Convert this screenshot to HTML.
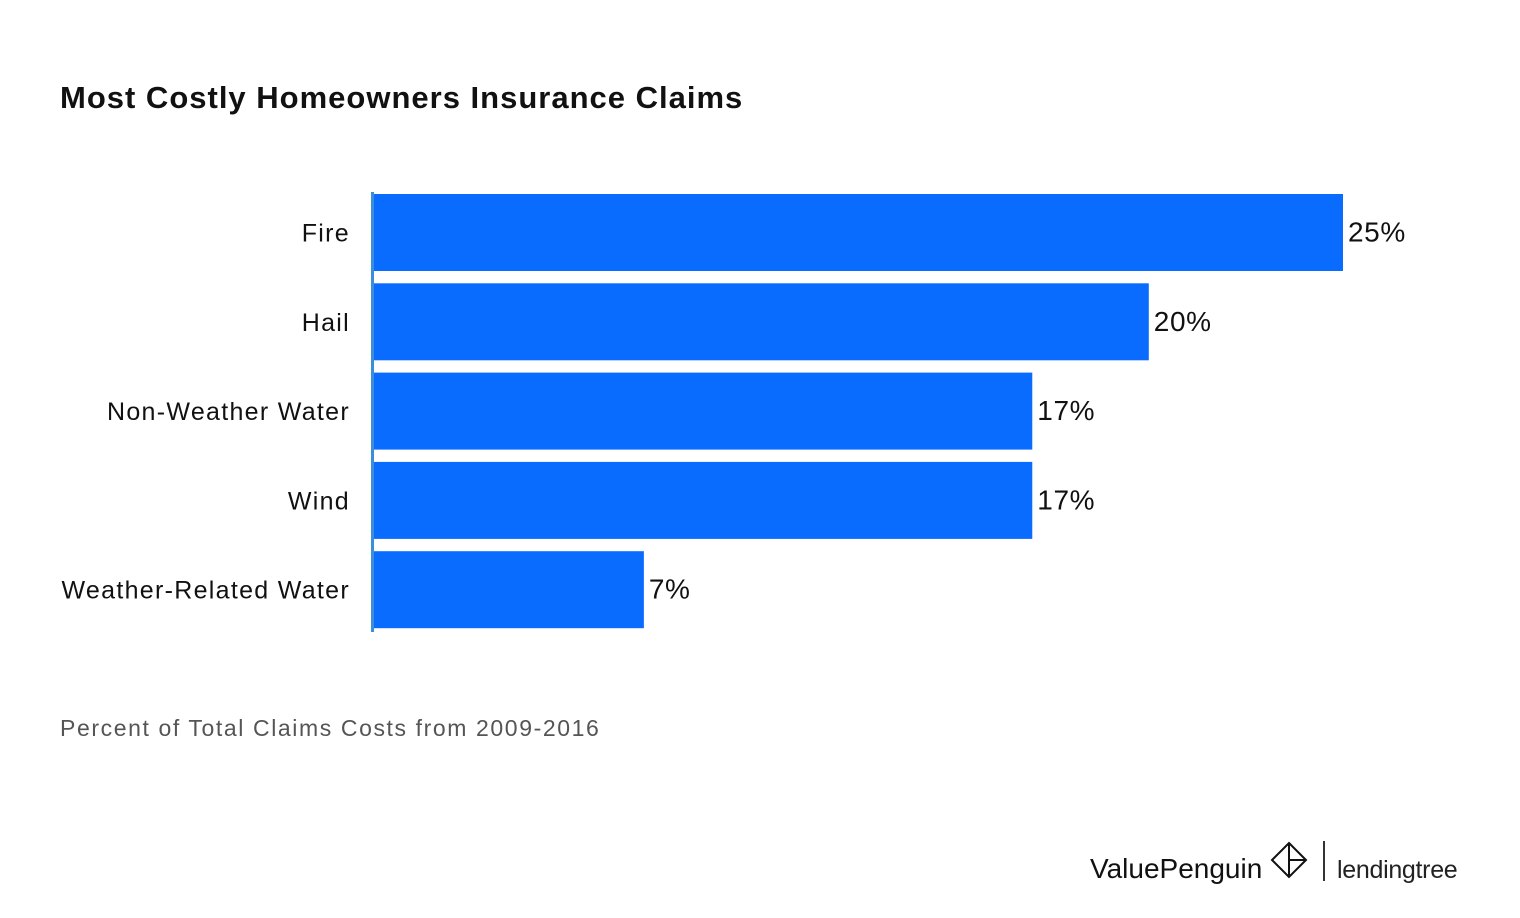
<!DOCTYPE html>
<html><head><meta charset="utf-8"><style>
body{margin:0;background:#fff;font-family:"Liberation Sans",sans-serif}
#wrap{position:relative;width:1520px;height:918px;overflow:hidden}
.t{position:absolute;color:#111}
</style></head><body>
<div id="wrap">
<div class="t" style="left:60px;top:80px;font-size:31px;font-weight:bold;letter-spacing:1px">Most Costly Homeowners Insurance Claims</div>
<svg id="svg" width="1520" height="918" style="position:absolute;left:0;top:0"></svg>
<div class="t" style="left:60px;top:715px;font-size:23px;color:#555;letter-spacing:1.6px">Percent of Total Claims Costs from 2009-2016</div>
<div class="t" style="left:1090px;top:853px;font-size:28px;letter-spacing:0px">ValuePenguin</div>
<svg style="position:absolute;left:1270px;top:840px" width="40" height="40"><path d="M19 3 L36 20 L19 37 L2 20 Z M19 3 L19 37 M19 20 L36 20" fill="none" stroke="#111" stroke-width="2"/></svg>
<div style="position:absolute;left:1323px;top:841px;width:2px;height:40px;background:#333"></div>
<div class="t" style="left:1337px;top:856px;font-size:25px;letter-spacing:-0.3px;color:#222">lendingtree</div>
</div>
<script>
const categories=["Fire","Hail","Non-Weather Water","Wind","Weather-Related Water"];
const values=[25,20,17,17,7];
const labels=["25%","20%","17%","17%","7%"];
const svg=document.getElementById('svg');
const NS="http://www.w3.org/2000/svg";
const x0=372, pxPer=38.84, top0=194, pitch=89.3, bh=77;
const xs=v=>x0+v*pxPer;
const ys=i=>top0+i*pitch;
categories.forEach((c,i)=>{
 const r=document.createElementNS(NS,'rect');
 r.setAttribute('x',x0);r.setAttribute('y',ys(i));
 r.setAttribute('width',xs(values[i])-x0);r.setAttribute('height',bh);
 r.setAttribute('fill','#0a6cff');
 
 
 svg.appendChild(r);
 const t=document.createElementNS(NS,'text');
 t.setAttribute('x',350);t.setAttribute('y',ys(i)+bh/2+9);
 t.setAttribute('text-anchor','end');t.setAttribute('font-size','25');t.setAttribute('fill','#111');
 t.setAttribute('letter-spacing','1.3');
 t.setAttribute('font-family','Liberation Sans, sans-serif');
 t.textContent=c;
 
 
 svg.appendChild(t);
 const v=document.createElementNS(NS,'text');
 v.setAttribute('x',xs(values[i])+5);v.setAttribute('y',ys(i)+bh/2+9);
 v.setAttribute('font-size','28');v.setAttribute('fill','#111');
 v.setAttribute('letter-spacing','0.6');
 v.setAttribute('font-family','Liberation Sans, sans-serif');
 v.textContent=labels[i];
 
 
 svg.appendChild(v);
});
const ax=document.createElementNS(NS,'rect');
ax.setAttribute('x',x0-1);ax.setAttribute('y',192);ax.setAttribute('width',3);ax.setAttribute('height',440);
ax.setAttribute('fill','#3a8fd8');


svg.appendChild(ax);
</script>
</body></html>
